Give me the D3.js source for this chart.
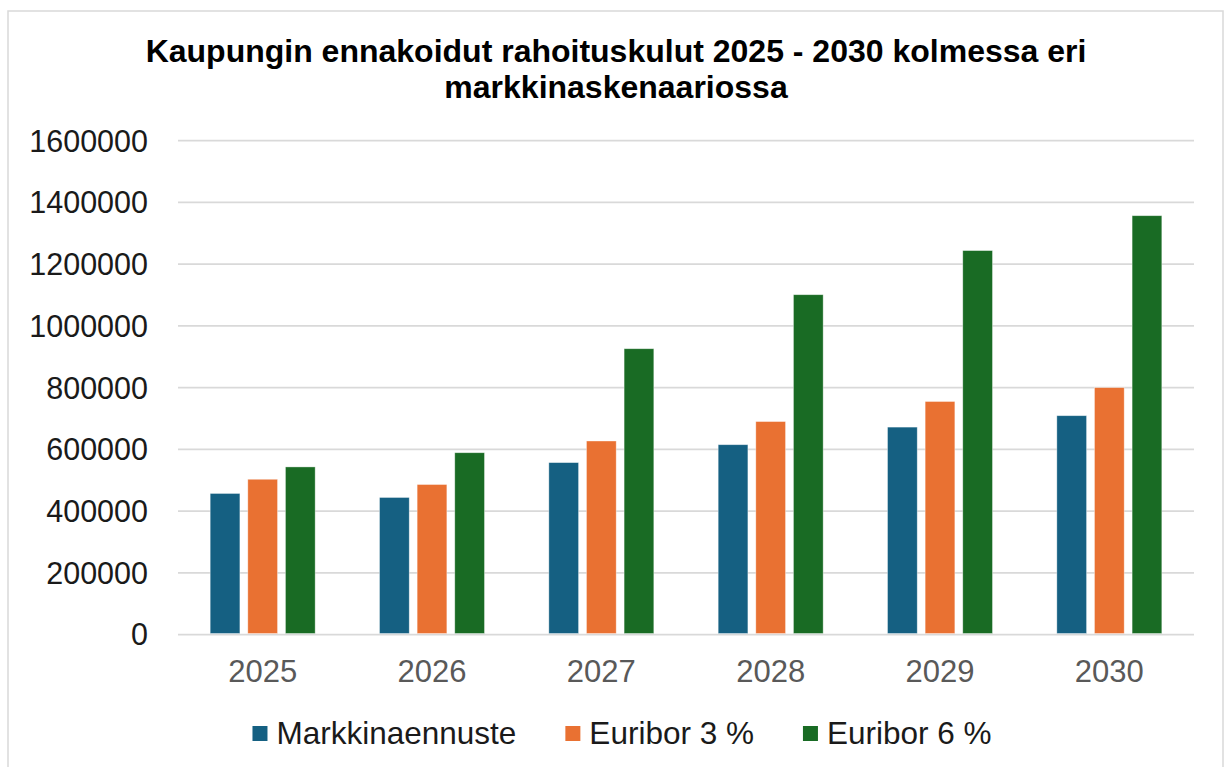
<!DOCTYPE html>
<html lang="fi">
<head>
  <meta charset="UTF-8">
  <title>Kaupungin ennakoidut rahoituskulut</title>
  <script src="https://d3js.org/d3.v7.min.js"></script>
  <style>
    body { margin: 0; background: #fff; }
    svg { font-family: "Liberation Sans", Arial, sans-serif; }
  </style>
</head>
<body>
  <div id="chart"></div>

  <script>
    // Data
    const years = ["2025", "2026", "2027", "2028", "2029", "2030"];
    const seriesNames = ["Markkinaennuste", "Euribor 3 %", "Euribor 6 %"];
    const markkinaennuste = [457000, 444000, 557000, 615000, 672000, 709000];
    const euribor3 = [503000, 486000, 627000, 690000, 755000, 800000];
    const euribor6 = [543000, 589000, 926000, 1101000, 1244000, 1357000];
    const yTicks = [0, 200000, 400000, 600000, 800000, 1000000, 1200000, 1400000, 1600000];
    const colors = ["#156082", "#e97132", "#196b24"];

    const width = 1229;
    const height = 767;
    const margin = { left: 178, right: 35, top: 140.7, bottom: 132.5 };

    const svg = d3.select("#chart")
      .append("svg")
      .attr("width", width)
      .attr("height", height);

    // chart frame
    svg.append("rect")
      .attr("x", 8).attr("y", 11)
      .attr("width", 1215).attr("height", 770)
      .attr("fill", "#fff")
      .attr("stroke", "#d9d9d9")
      .attr("stroke-width", 1.5);

    // title
    const title = svg.append("text")
      .attr("text-anchor", "middle")
      .attr("font-weight", "bold")
      .attr("font-size", 32)
      .attr("fill", "#000");
    title.append("tspan").attr("x", 616).attr("y", 62)
      .text("Kaupungin ennakoidut rahoituskulut 2025 - 2030 kolmessa eri");
    title.append("tspan").attr("x", 616).attr("y", 98)
      .text("markkinaskenaariossa");

    const x0 = d3.scaleBand()
      .domain(years)
      .range([margin.left, width - margin.right])
      .paddingInner(0.38)
      .paddingOuter(0.19);

    const x1 = d3.scaleBand()
      .domain(seriesNames)
      .range([0, x0.bandwidth()])
      .paddingInner(0.21);

    const y = d3.scaleLinear()
      .domain([0, 1600000])
      .range([height - margin.bottom, margin.top]);

    // gridlines
    svg.append("g")
      .selectAll("line")
      .data(yTicks)
      .join("line")
      .attr("x1", margin.left)
      .attr("x2", width - margin.right)
      .attr("y1", d => y(d))
      .attr("y2", d => y(d))
      .attr("stroke", "#d9d9d9")
      .attr("stroke-width", 1.75);

    // y labels
    svg.append("g")
      .selectAll("text")
      .data(yTicks)
      .join("text")
      .attr("x", 148)
      .attr("y", d => y(d))
      .attr("dy", "0.36em")
      .attr("text-anchor", "end")
      .attr("font-size", 30.5)
      .attr("fill", "#1a1a1a")
      .text(d => d);

    // bars
    const table = years.map((yr, i) => ({
      year: yr,
      values: [markkinaennuste[i], euribor3[i], euribor6[i]]
    }));

    const groups = svg.append("g")
      .selectAll("g")
      .data(table)
      .join("g")
      .attr("transform", d => `translate(${x0(d.year)},0)`);

    groups.selectAll("rect")
      .data(d => d.values.map((v, j) => ({ name: seriesNames[j], value: v, j })))
      .join("rect")
      .attr("x", d => x1(d.name))
      .attr("y", d => y(d.value))
      .attr("width", x1.bandwidth())
      .attr("height", d => y(0) - 1 - y(d.value))
      .attr("fill", d => colors[d.j])
      .attr("stroke", "#fff")
      .attr("stroke-opacity", 0.5)
      .attr("stroke-width", 0.75);

    // x labels
    svg.append("g")
      .selectAll("text")
      .data(years)
      .join("text")
      .attr("x", d => x0(d) + x0.bandwidth() / 2)
      .attr("y", 682)
      .attr("text-anchor", "middle")
      .attr("font-size", 31)
      .attr("fill", "#595959")
      .text(d => d);

    // legend
    const legend = svg.append("g");
    let lx = 0;
    seriesNames.forEach((name, i) => {
      const item = legend.append("g").attr("transform", `translate(${lx},0)`);
      item.append("rect")
        .attr("x", 0).attr("y", 726)
        .attr("width", 15).attr("height", 15)
        .attr("fill", colors[i]);
      const t = item.append("text")
        .attr("x", 24).attr("y", 744)
        .attr("font-size", 31.5)
        .attr("fill", "#1a1a1a")
        .text(name);
      lx += 24 + t.node().getComputedTextLength() + 49;
    });
    const legendWidth = lx - 49;
    legend.attr("transform", `translate(${622 - legendWidth / 2},0)`);
  </script>
</body>
</html>
